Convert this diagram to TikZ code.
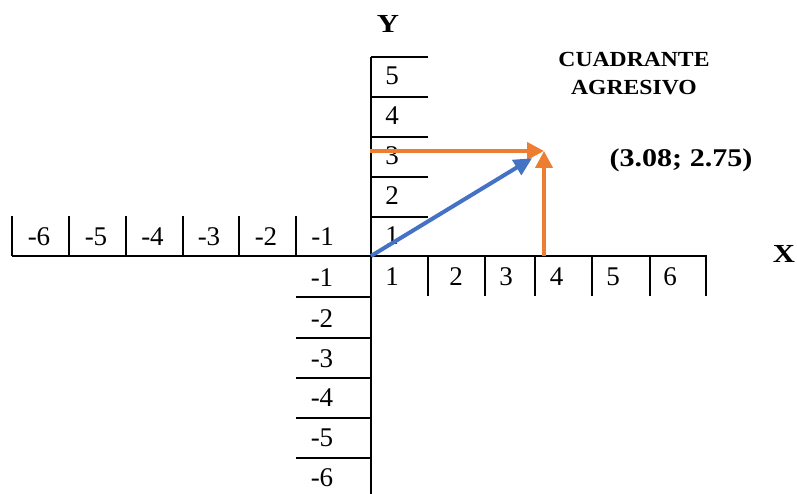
\documentclass[tikz,border=0pt]{standalone}
\usepackage{fontspec}
\setmainfont{Liberation Serif}
\newfontfamily\widefont[FakeStretch=1.18]{Liberation Serif}
\newfontfamily\quadfont[FakeStretch=1.1]{Liberation Serif}
\usepackage{tikz}
\usetikzlibrary{arrows.meta}
\definecolor{vecorange}{HTML}{ED7D31}
\definecolor{vecblue}{HTML}{4472C4}
\tikzset{
  axis/.style ={draw=black,line width=2pt},
  tickln/.style={draw=black,line width=2pt},
  num/.style  ={anchor=base,inner sep=0pt,font=\fontsize{27}{28}\selectfont},
  title/.style={inner sep=0pt,font=\widefont\bfseries\fontsize{26}{30}\selectfont},
  proj/.style ={-{Triangle[length=17pt,width=17pt]},line width=4pt,draw=vecorange},
  vec/.style  ={-{Triangle[length=18pt,width=17pt]},line width=4pt,draw=vecblue}
}

\begin{document}
\begin{tikzpicture}[x=1pt,y=-1pt]
        \useasboundingbox (0,0) rectangle (797,494);
        % axes
        \coordinate (O) at (371,256);
        \coordinate (xl) at (12,256);
        \coordinate (xr) at (707,256);
        \coordinate (yt) at (371,57);
        \coordinate (yb) at (371,494);
        \draw[axis] (xl) -- (xr);
        \draw[axis] (yt) -- (yb);
        % ticks
        \foreach \x in {12,69,126,183,239,296} \draw[tickln] (\x,256) -- (\x,216);
        \foreach \x in {428,485,535,592,650,706} \draw[tickln] (\x,256) -- (\x,296);
        \foreach \y in {57,97,137,177,217} \draw[tickln] (371,\y) -- (428,\y);
        \foreach \y in {297,338,378,418,458} \draw[tickln] (371,\y) -- (296,\y);
        % tick labels
        \foreach \t/\x [count=\i] in {-6/39,-5/96,-4/152.5,-3/209,-2/266,-1/322.5}
          \node[num] (xneg\i) at (\x,245) {\t};
        \foreach \t/\x in {1/392,2/456,3/506,4/556.5,5/613,6/670}
          \node[num] (xpos\t) at (\x,285) {\t};
        \foreach \t/\y in {5/85,4/125,3/165,2/205,1/244}
          \node[num] (ypos\t) at (392,\y) {\t};
        \foreach \t/\y [count=\i] in {-1/286,-2/327,-3/367,-4/406,-5/446,-6/486}
          \node[num] (yneg\i) at (322,\y) {\t};
        % titles
        \node[title] (ylab) at (388,24) {Y};
        \node[title] (xlab) at (784,254) {X};
        \node[title,align=center,font=\quadfont\bfseries\fontsize{21.5}{28}\selectfont] (quad) at (634,74) {CUADRANTE\\AGRESIVO};
        \node[title,anchor=base,font=\widefont\bfseries\fontsize{25.5}{30}\selectfont] (pt) at (681,167) {(3.08; 2.75)};
        % vectors
        \coordinate (P) at (544,151);
        \coordinate (Py) at (370,151);
        \coordinate (Px) at (544,256);
        \draw[proj] (Py) -- (P);
        \draw[proj] (Px) -- (P);
        \draw[vec,shorten >=14pt] (O) -- (P);
      \end{tikzpicture}
\end{document}
